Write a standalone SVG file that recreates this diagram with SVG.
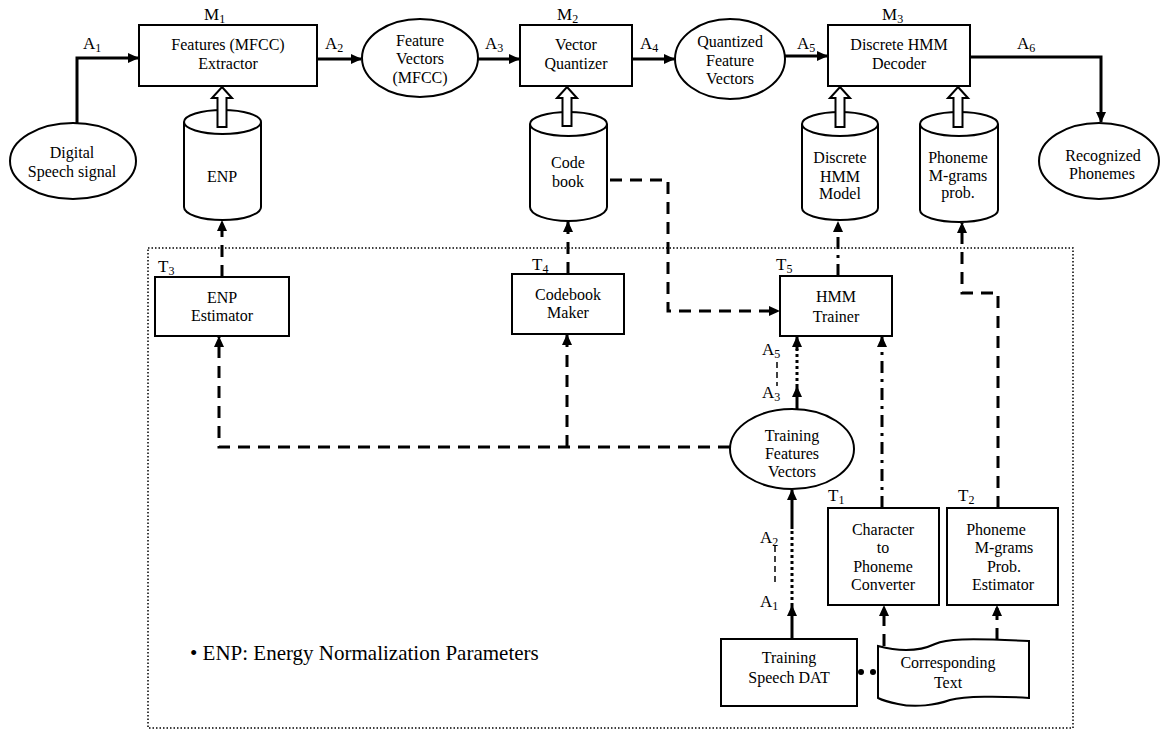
<svg xmlns="http://www.w3.org/2000/svg" width="1166" height="733" viewBox="0 0 1166 733">
<style>
text{font-family:"Liberation Serif","Times New Roman",serif;font-size:16px;fill:#000}
.c{text-anchor:middle}
.lb{font-size:17px}
.sub{font-size:12px}
.box{fill:#fff;stroke:#000;stroke-width:2}
.hol{fill:#fff;stroke:#000;stroke-width:2;stroke-linejoin:miter}
.solid{fill:none;stroke:#000;stroke-width:3}
.dash{fill:none;stroke:#000;stroke-width:3;stroke-dasharray:12 8}
.dot{fill:none;stroke:#000;stroke-width:3;stroke-dasharray:3 3}
.dd{fill:none;stroke:#000;stroke-width:3;stroke-dasharray:12 6 3 6}
.thin{fill:none;stroke:#000;stroke-width:1.5;stroke-dasharray:6 4}
.border{fill:none;stroke:#000;stroke-width:1.5;stroke-dasharray:1.5 2}
</style>
<defs>
<marker id="ah" markerUnits="userSpaceOnUse" markerWidth="11" markerHeight="10" refX="10" refY="5" orient="auto" viewBox="0 0 11 10">
<path d="M0,0 L11,5 L0,10 z" fill="#000"/>
</marker>
</defs>

<rect id="training-area" class="border" x="148" y="248" width="925" height="480"/>

<g id="connectors">
<path class="solid" d="M77,123 L77,58 L138,58" marker-end="url(#ah)"/>
<path class="solid" d="M317,59 L361,59" marker-end="url(#ah)"/>
<path class="solid" d="M477,59 L519,59" marker-end="url(#ah)"/>
<path class="solid" d="M632,59 L674,59" marker-end="url(#ah)"/>
<path class="solid" d="M785,56 L827,56" marker-end="url(#ah)"/>
<path class="solid" d="M970,57 L1101,57 L1101,122" marker-end="url(#ah)"/>

<path class="dash" d="M222,277 L222,221" marker-end="url(#ah)"/>
<path class="dash" d="M568,274 L568,222" marker-end="url(#ah)"/>
<path class="dd" d="M838,276 L838,222" marker-end="url(#ah)"/>
<path class="dash" d="M998,508 L998,293 L962,293 L962,223" marker-end="url(#ah)"/>
<path class="dash" d="M610,180 L668,180 L668,311 L779,311" marker-end="url(#ah)"/>
<path class="dash" d="M730,447 L219,447 L219,337" marker-end="url(#ah)"/>
<path class="dash" d="M567,447 L567,335" marker-end="url(#ah)"/>

<path class="solid" d="M797,409 L797,387" marker-end="url(#ah)"/>
<path class="dot" d="M797,387 L797,349"/>
<path class="solid" d="M797,350 L797,337" marker-end="url(#ah)"/>

<path class="solid" d="M792,639 L792,606" marker-end="url(#ah)"/>
<path class="dot" d="M792,606 L792,528"/>
<path class="solid" d="M792,529 L792,490" marker-end="url(#ah)"/>

<path class="dd" d="M882,508 L882,337" marker-end="url(#ah)"/>
<path class="dash" d="M884,646 L884,606" marker-end="url(#ah)"/>
<path class="dash" d="M997,640 L997,606" marker-end="url(#ah)"/>

<path class="thin" d="M777,362 L777,386"/>
<path class="thin" d="M775,546 L775,584"/>
<circle cx="861" cy="672" r="3" fill="#000"/>
<circle cx="873" cy="672" r="3" fill="#000"/>
</g>

<g id="labels">
<text class="lb" x="83" y="49">A<tspan class="sub" dy="3">1</tspan></text>
<text class="lb" x="325" y="49">A<tspan class="sub" dy="3">2</tspan></text>
<text class="lb" x="485" y="49">A<tspan class="sub" dy="3">3</tspan></text>
<text class="lb" x="640" y="49">A<tspan class="sub" dy="3">4</tspan></text>
<text class="lb" x="797" y="49">A<tspan class="sub" dy="3">5</tspan></text>
<text class="lb" x="1017" y="49">A<tspan class="sub" dy="3">6</tspan></text>
<text class="lb" x="204" y="20">M<tspan class="sub" dy="3">1</tspan></text>
<text class="lb" x="557" y="20">M<tspan class="sub" dy="3">2</tspan></text>
<text class="lb" x="882" y="20">M<tspan class="sub" dy="3">3</tspan></text>
<text class="lb" x="158" y="272">T<tspan class="sub" dy="3">3</tspan></text>
<text class="lb" x="532" y="270">T<tspan class="sub" dy="3">4</tspan></text>
<text class="lb" x="776" y="270">T<tspan class="sub" dy="3">5</tspan></text>
<text class="lb" x="828" y="501">T<tspan class="sub" dy="3">1</tspan></text>
<text class="lb" x="958" y="501">T<tspan class="sub" dy="3">2</tspan></text>
<text class="lb" x="762" y="355">A<tspan class="sub" dy="3">5</tspan></text>
<text class="lb" x="762" y="398">A<tspan class="sub" dy="3">3</tspan></text>
<text class="lb" x="760" y="543">A<tspan class="sub" dy="3">2</tspan></text>
<text class="lb" x="760" y="607">A<tspan class="sub" dy="3">1</tspan></text>
<text x="190" y="660" style="font-size:21px">• ENP: Energy Normalization Parameters</text>
</g>

<g id="digital-speech">
<ellipse class="box" cx="73" cy="161" rx="63" ry="38"/>
<text class="c" x="72" y="158">Digital</text>
<text class="c" x="72" y="177">Speech signal</text>
</g>

<g id="m1-extractor">
<rect class="box" x="139" y="25" width="178" height="61"/>
<text class="c" x="228" y="50">Features (MFCC)</text>
<text class="c" x="228" y="69">Extractor</text>
</g>

<g id="feature-vectors">
<ellipse class="box" cx="420" cy="58" rx="58" ry="39"/>
<text class="c" x="420" y="46">Feature</text>
<text class="c" x="420" y="64">Vectors</text>
<text class="c" x="420" y="83">(MFCC)</text>
</g>

<g id="m2-quantizer">
<rect class="box" x="520" y="25" width="112" height="61"/>
<text class="c" x="576" y="50">Vector</text>
<text class="c" x="576" y="69">Quantizer</text>
</g>

<g id="quantized-vectors">
<ellipse class="box" cx="730" cy="59" rx="55" ry="40"/>
<text class="c" x="730" y="47">Quantized</text>
<text class="c" x="730" y="66">Feature</text>
<text class="c" x="730" y="84">Vectors</text>
</g>

<g id="m3-decoder">
<rect class="box" x="828" y="25" width="142" height="61"/>
<text class="c" x="899" y="50">Discrete HMM</text>
<text class="c" x="899" y="69">Decoder</text>
</g>

<g id="recognized">
<ellipse class="box" cx="1099" cy="161" rx="60" ry="38"/>
<text class="c" x="1103" y="161">Recognized</text>
<text class="c" x="1102" y="179">Phonemes</text>
</g>

<g id="enp-db">
<path class="box" d="M184,122 L184,207 A38.5,13 0 0 0 261,207 L261,122"/>
<ellipse class="box" cx="222.5" cy="122" rx="38.5" ry="12"/>
<text class="c" x="222" y="182">ENP</text>
<path class="hol" d="M222,87 L232,98 L226.5,98 L226.5,127 L217.5,127 L217.5,98 L212,98 Z"/>
</g>

<g id="codebook-db">
<path class="box" d="M530,124 L530,207 A38.5,14 0 0 0 607,207 L607,124"/>
<ellipse class="box" cx="568.5" cy="124" rx="38.5" ry="12"/>
<text class="c" x="568" y="168">Code</text>
<text class="c" x="568" y="187">book</text>
<path class="hol" d="M567,87 L577,98 L571.5,98 L571.5,126 L562.5,126 L562.5,98 L557,98 Z"/>
</g>

<g id="hmm-model-db">
<path class="box" d="M802,124 L802,208 A38,12 0 0 0 878,208 L878,124"/>
<ellipse class="box" cx="840" cy="124" rx="38" ry="12"/>
<text class="c" x="840" y="163">Discrete</text>
<text class="c" x="840" y="182">HMM</text>
<text class="c" x="840" y="199">Model</text>
<path class="hol" d="M840,87 L850,98 L844.5,98 L844.5,127 L835.5,127 L835.5,98 L830,98 Z"/>
</g>

<g id="mgram-db">
<path class="box" d="M920,124 L920,210 A39,12 0 0 0 998,210 L998,124"/>
<ellipse class="box" cx="959" cy="124" rx="39" ry="12"/>
<text class="c" x="958" y="163">Phoneme</text>
<text class="c" x="958" y="181">M-grams</text>
<text class="c" x="958" y="198">prob.</text>
<path class="hol" d="M958,87 L968,98 L962.5,98 L962.5,127 L953.5,127 L953.5,98 L948,98 Z"/>
</g>

<g id="t3-enp-estimator">
<rect class="box" x="155" y="277" width="134" height="59"/>
<text class="c" x="222" y="303">ENP</text>
<text class="c" x="222" y="321">Estimator</text>
</g>

<g id="t4-codebook-maker">
<rect class="box" x="512" y="274" width="112" height="60"/>
<text class="c" x="568" y="300">Codebook</text>
<text class="c" x="568" y="318">Maker</text>
</g>

<g id="t5-hmm-trainer">
<rect class="box" x="780" y="276" width="112" height="60"/>
<text class="c" x="836" y="302">HMM</text>
<text class="c" x="836" y="322">Trainer</text>
</g>

<g id="training-features">
<ellipse class="box" cx="792" cy="449" rx="62" ry="40"/>
<text class="c" x="792" y="441">Training</text>
<text class="c" x="792" y="459">Features</text>
<text class="c" x="792" y="477">Vectors</text>
</g>

<g id="t1-char-converter">
<rect class="box" x="828" y="508" width="111" height="97"/>
<text class="c" x="883" y="535">Character</text>
<text class="c" x="883" y="553">to</text>
<text class="c" x="883" y="572">Phoneme</text>
<text class="c" x="883" y="590">Converter</text>
</g>

<g id="t2-mgram-estimator">
<rect class="box" x="947" y="508" width="111" height="97"/>
<text class="c" x="996" y="535">Phoneme</text>
<text class="c" x="1004" y="553">M-grams</text>
<text class="c" x="1004" y="572">Prob.</text>
<text class="c" x="1003" y="590">Estimator</text>
</g>

<g id="training-speech">
<rect class="box" x="721" y="639" width="136" height="67"/>
<text class="c" x="789" y="663">Training</text>
<text class="c" x="789" y="683">Speech DAT</text>
</g>

<g id="corresponding-text">
<path class="box" d="M878,646 C900,652 920,651 935,644 C946,639 965,638 1029,641 L1029,698 C1000,696 965,696 950,700 C936,705 915,708 898,704 C888,702 882,700 878,698 Z"/>
<text class="c" x="948" y="668">Corresponding</text>
<text class="c" x="948" y="688">Text</text>
</g>
</svg>
